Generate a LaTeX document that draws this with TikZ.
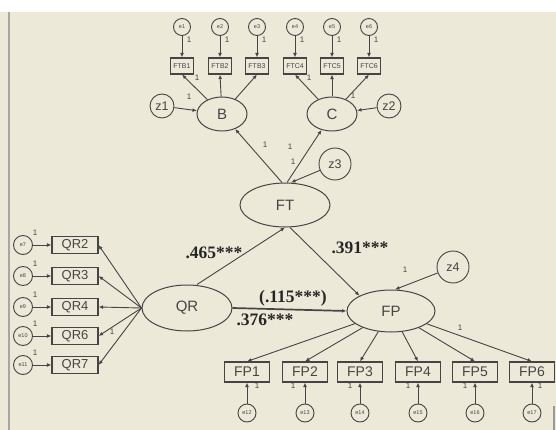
\documentclass[tikz,border=0pt]{standalone}
\usepackage{fontspec}
\setmainfont{Liberation Sans}
\newfontfamily\coef{Liberation Serif}
\usetikzlibrary{shapes.geometric,arrows.meta}
\definecolor{bg}{HTML}{ECE9D8}
\definecolor{ln}{HTML}{454545}
\begin{document}
\begin{tikzpicture}[x=1pt,y=-1pt,
 lat/.style={ellipse,draw=ln,line width=1pt,inner sep=0pt,text=ln,font=\fontsize{15}{15}\selectfont},
 obs/.style={rectangle,draw=ln,line width=1.1pt,inner sep=0pt,text=ln},
 err/.style={circle,draw=ln,line width=0.9pt,inner sep=0pt,text=ln},
 topbox/.style={obs,minimum width=23pt,minimum height=16pt,font=\fontsize{7}{7}\selectfont},
 qrbox/.style={obs,minimum width=46pt,minimum height=17pt,font=\fontsize{13}{13}\selectfont},
 fpbox/.style={obs,minimum width=45pt,minimum height=20pt,font=\fontsize{14}{14}\selectfont},
 smallerr/.style={err,minimum size=17pt,font=\fontsize{5.5}{5.5}\selectfont},
 disturb/.style={err,font=\fontsize{12.5}{12.5}\selectfont},
 arr/.style={draw=ln,line width=0.9pt,-{Latex[length=4.5pt,width=3.8pt]}},
 one/.style={inner sep=0pt,text=ln,font=\fontsize{8}{8}\selectfont},
 coefl/.style={inner sep=0pt,text=black!85,font=\coef\bfseries\fontsize{17.5}{17.5}\selectfont}]
\fill[bg] (0,12) rectangle (556,430);
\fill[white] (0,0) rectangle (556,12);
\useasboundingbox (0,0) rectangle (556,430);
\draw[gray!70,line width=2pt] (9,12) -- (9,430);
\draw[gray!80,line width=2pt] (554,406) -- (554,430);
% top error terms and indicators
\foreach \n/\x/\b in {1/182/FTB1,2/220/FTB2,3/257/FTB3,4/295/FTC4,5/332/FTC5,6/369/FTC6}{
  \node[smallerr] (e\n) at (\x,27) {e\n};
  \node[topbox] (\b) at (\x,66) {\b};
  \node[one] (le\n) at (\x+7,40) {1};
  \draw[arr] (e\n) -- (\b);
}
\node[lat,minimum width=50pt,minimum height=34pt] (B) at (222,114) {B};
\node[lat,minimum width=50pt,minimum height=34pt] (C) at (332,114) {C};
\node[disturb,minimum size=24pt] (z1) at (162,106) {z1};
\node[disturb,minimum size=24pt] (z2) at (389,106) {z2};
\draw[arr] (z1) -- (B);
\draw[arr] (z2) -- (C);
\foreach \b in {FTB1,FTB2,FTB3}{\draw[arr] (B) -- (\b.south);}
\foreach \b in {FTC4,FTC5,FTC6}{\draw[arr] (C) -- (\b.south);}
\node[one] (lz1) at (189,97) {1};
\node[one] (lb1) at (197,78) {1};
\node[one] (lc4) at (309,78) {1};
\node[one] (lc6) at (353,96) {1};
% FT
\node[lat,minimum width=90pt,minimum height=44pt] (FT) at (285,205) {FT};
\node[disturb,minimum size=32pt] (z3) at (335,164) {z3};
\draw[arr] ([xshift=-3pt]FT.north) -- (B);
\draw[arr] ([xshift=2pt]FT.north) -- (C);
\draw[arr] (z3) -- ([xshift=6pt]FT.north);
\node[one] (lfb) at (265,145) {1};
\node[one] (lfc) at (290,147) {1};
\node[one] (lz3) at (293,162) {1};
% QR
\node[lat,minimum width=90pt,minimum height=46pt] (QR) at (187,308) {QR};
\foreach \n/\y/\b in {7/245/QR2,8/276/QR3,9/307/QR4,10/336/QR6,11/365/QR7}{
  \node[smallerr,minimum size=19pt] (e\n) at (23,\y) {e\n};
  \node[qrbox] (\b) at (75,\y) {\b};
  \node[one] (le\n) at (35,\y-12) {1};
  \draw[arr] (e\n) -- (\b);
  \draw[arr] (QR.west) -- (\b.east);
}
\node[one] (lq6) at (112,332) {1};
% FP
\node[lat,minimum width=88pt,minimum height=42pt] (FP) at (391,311) {FP};
\node[disturb,minimum size=32pt] (z4) at (453,267) {z4};
\draw[arr] (z4) -- ([xshift=4pt]FP.north);
\node[one] (lz4) at (405,270) {1};
\foreach \n/\x/\b/\d in {12/247/FP1/10,13/305/FP2/-12,14/360/FP3/-10,15/418/FP4/-10,16/475/FP5/-10,17/532/FP6/8}{
  \node[fpbox] (\b) at (\x,372) {\b};
  \node[smallerr,minimum size=18pt] (e\n) at (\x,413) {e\n};
  \node[one] (le\n) at (\x+\d,386) {1};
  \draw[arr] (e\n) -- (\b);
  \draw[arr] (FP) -- (\b.north);
}
\node[one] (lf6) at (460,328) {1};
% structural paths
\draw[arr] ([xshift=10pt]QR.north) -- (FT.south);
\draw[arr] ([xshift=5pt]FT.south) -- (FP.north west);
\draw[arr,line width=1.7pt] (QR.east) -- (FP.west);
\node[coefl] (c1) at (214,253) {.465***};
\node[coefl] (c2) at (360,248) {.391***};
\node[coefl] (c3) at (293,298) {(.115***)};
\node[coefl] (c4) at (265,320) {.376***};
\end{tikzpicture}
\end{document}
